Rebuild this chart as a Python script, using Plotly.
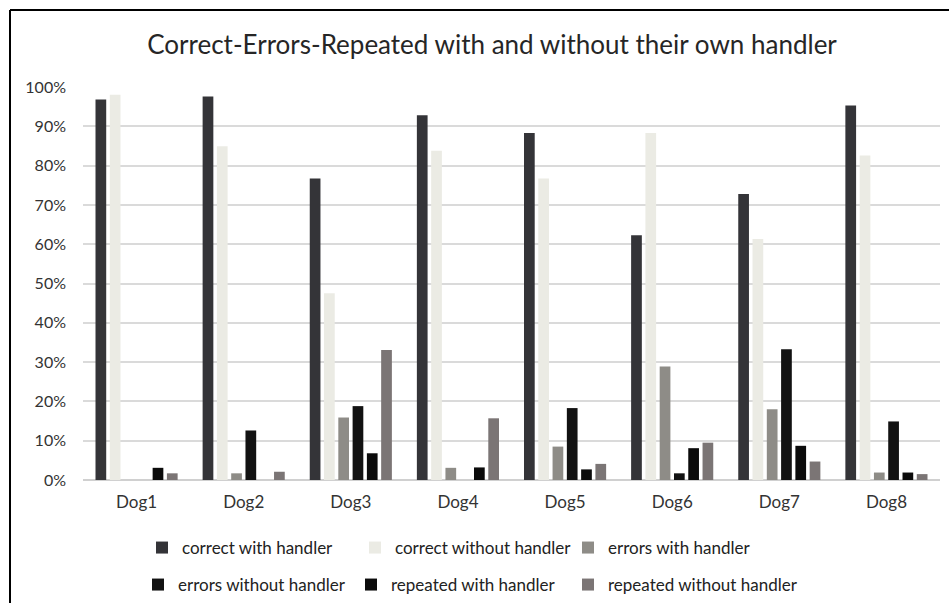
import plotly.graph_objects as go

dogs = ["Dog1", "Dog2", "Dog3", "Dog4", "Dog5", "Dog6", "Dog7", "Dog8"]

correct_with = [0.968, 0.976, 0.767, 0.928, 0.883, 0.623, 0.728, 0.953]
correct_without = [0.980, 0.849, 0.475, 0.838, 0.767, 0.883, 0.613, 0.826]
errors_with = [0.0, 0.017, 0.159, 0.031, 0.085, 0.289, 0.180, 0.019]
errors_without = [0.0, 0.126, 0.188, 0.0, 0.183, 0.017, 0.333, 0.149]
repeated_with = [0.031, 0.0, 0.068, 0.032, 0.027, 0.081, 0.087, 0.019]
repeated_without = [0.017, 0.021, 0.331, 0.157, 0.041, 0.095, 0.047, 0.015]

series = [
    ("correct with handler", correct_with, "#343438", "legend"),
    ("correct without handler", correct_without, "#ebebe4", "legend"),
    ("errors with handler", errors_with, "#8e8c87", "legend"),
    ("errors without handler", errors_without, "#121212", "legend2"),
    ("repeated with handler", repeated_with, "#0b0b0b", "legend2"),
    # own legend so the long label is not clipped by legend2's box
    ("repeated without handler", repeated_without, "#7b7575", "legend3"),
]

W, H = 949, 603
FONT = "Lato"
# plot area in pixels
PL, PR, PT, PB = 83, 940, 87, 480
COL = 213  # legend column spacing in px

fig = go.Figure()
for name, vals, color, leg in series:
    fig.add_trace(go.Bar(
        x=dogs,
        y=vals,
        name=name,
        marker_color=color,
        marker_line_width=0,
        legend=leg,
    ))

# frame of the original (only top and left edges are visible in the crop)
fx = (10 - PL) / (PR - PL)
fy = 1 + (PT - 10) / (PB - PT)
fig.add_shape(type="line", xref="paper", yref="paper",
              x0=fx, x1=1.02, y0=fy, y1=fy,
              line=dict(color="#000000", width=2))
fig.add_shape(type="line", xref="paper", yref="paper",
              x0=fx, x1=fx, y0=-0.35, y1=fy,
              line=dict(color="#000000", width=2))

legend_common = dict(
    orientation="h",
    xref="container", yref="container",
    xanchor="left", yanchor="middle",
    font=dict(family=FONT, size=17, color="#222222"),
    itemwidth=30, bgcolor="rgba(0,0,0,0)",
)

fig.update_layout(
    width=W, height=H,
    barmode="group",
    bargap=0.2,
    bargroupgap=0.25,
    plot_bgcolor="white",
    paper_bgcolor="white",
    font=dict(family=FONT, color="#333333"),
    margin=dict(l=PL, r=W - PR, t=PT, b=H - PB),
    title=dict(
        text="Correct-Errors-Repeated with and without their own handler",
        x=492 / W, xanchor="center", xref="container",
        y=1 - 45 / H, yanchor="middle", yref="container",
        font=dict(family=FONT, size=26, color="#262626"),
    ),
    xaxis=dict(
        showgrid=False, showline=False, ticks="",
        ticklabelstandoff=10,
        tickfont=dict(family=FONT, size=17, color="#333333"),
    ),
    yaxis=dict(
        range=[0, 1],
        dtick=0.1,
        tickformat=".0%",
        gridcolor="#dadada",
        gridwidth=1.5,
        zeroline=True,
        zerolinecolor="#d0d0d0",
        zerolinewidth=1.5,
        ticks="",
        ticklabelstandoff=16,
        tickfont=dict(family=FONT, size=16, color="#333333"),
    ),
    legend=dict(x=142 / W, y=1 - 548 / H, entrywidth=COL - 45,
                entrywidthmode="pixels", **legend_common),
    legend2=dict(x=138 / W, y=1 - 585 / H, entrywidth=COL - 45,
                 entrywidthmode="pixels", **legend_common),
    legend3=dict(x=(142 + 2 * COL) / W, y=1 - 585 / H, **legend_common),
)

fig.write_html("out.html", config={"displayModeBar": False},
               post_script="document.body.style.margin = '0';")
